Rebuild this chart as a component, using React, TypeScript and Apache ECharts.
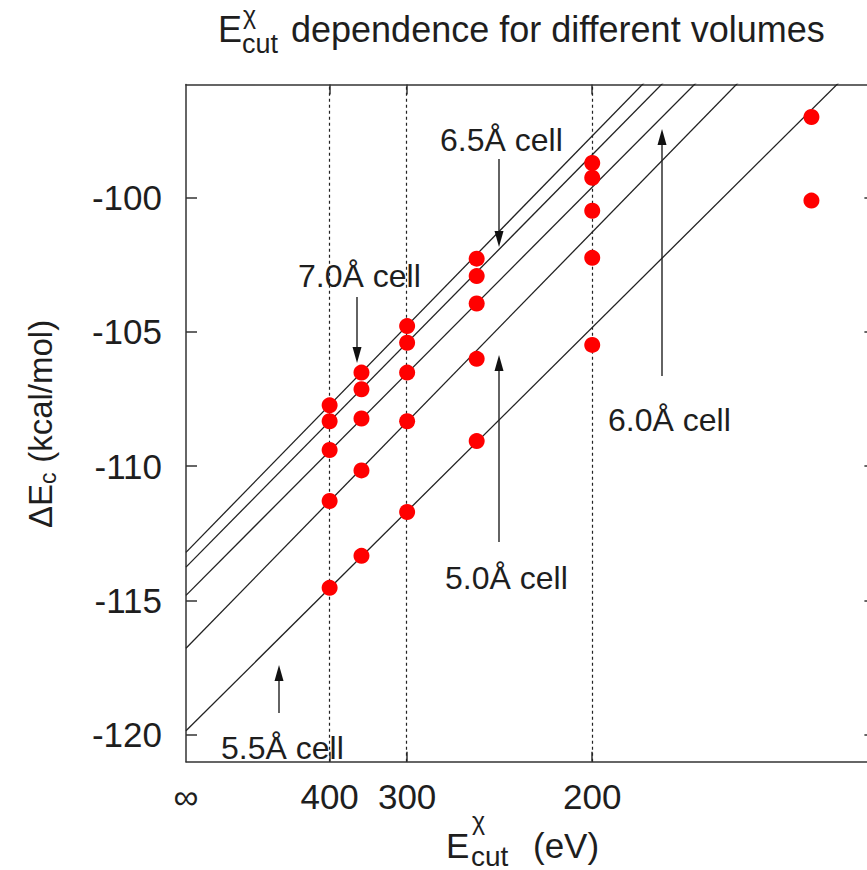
import React, { useEffect, useRef } from 'react';
import * as echarts from 'echarts';

// ---- data ----
const cutoffEnergies = [400, 350, 300, 250, 200, 150]; // eV
const cellNames = ['7.0Å cell', '6.5Å cell', '6.0Å cell', '5.0Å cell', '5.5Å cell'];
const dE_7_0 = [-107.74, -106.52, -104.79, -102.28, -98.72];
const dE_6_5 = [-108.33, -107.14, -105.41, -102.93, -99.27];
const dE_6_0 = [-109.4, -108.23, -106.52, -103.95, -100.5];
const dE_5_0 = [-111.3, -110.16, -108.33, -106.01, -102.25, -97.01];
const dE_5_5 = [-114.53, -113.34, -111.71, -109.07, -105.49, -100.12];
const cellSeries = [dE_7_0, dE_6_5, dE_6_0, dE_5_0, dE_5_5];
// linear fits in E^-3/2 (value at E = infinity, slope)
const fitIntercepts = [-113.21, -113.76, -114.81, -116.78, -119.85];
const fitSlopes = [4.383, 4.34, 4.296, 4.38, 4.245];
const xTickEnergies = [Infinity, 400, 300, 200];
const xTickLabels = ['∞', '400', '300', '200'];
const yTicks = [-120, -115, -110, -105, -100];

const X_MAX = 6.0;
const Y_MIN = -121;
const Y_MAX = -95.8;

const xOf = (E: number) => (isFinite(E) ? 1e4 * Math.pow(E, -1.5) : 0);

const FONT = '"Liberation Sans", Arial, Helvetica, sans-serif';
const INK = '#1e1e1e';
const AXIS = '#333';

function txt(text: string, x: number, y: number, size: number, extra: any = {}) {
  return {
    type: 'text',
    x,
    y,
    z: 100,
    style: {
      text,
      font: `${size}px ${FONT}`,
      fill: INK,
      textAlign: 'left',
      textVerticalAlign: 'middle',
      ...extra,
    },
  };
}

function arrow(x: number, yFrom: number, yTip: number) {
  const dir = yTip > yFrom ? 1 : -1;
  const headLen = 16;
  const headHalf = 4.5;
  return [
    {
      type: 'line',
      z: 100,
      shape: { x1: x, y1: yFrom, x2: x, y2: yTip - dir * headLen * 0.6 },
      style: { stroke: '#222', lineWidth: 1.4 },
    },
    {
      type: 'polygon',
      z: 100,
      shape: {
        points: [
          [x, yTip],
          [x - headHalf, yTip - dir * headLen],
          [x + headHalf, yTip - dir * headLen],
        ],
      },
      style: { fill: '#111' },
    },
  ];
}

export default function App() {
  const ref = useRef<HTMLDivElement>(null);

  useEffect(() => {
    if (!ref.current) return;
    const chart = echarts.init(ref.current, undefined, { renderer: 'svg' });

    const xTickVals = xTickEnergies.map(xOf);
    const xFormatter = (v: number) => {
      const i = xTickVals.findIndex((t) => Math.abs(t - v) < 1e-6);
      return i >= 0 ? xTickLabels[i] : '';
    };

    const axisLine = { show: true, onZero: false, lineStyle: { color: AXIS, width: 1.5 } };

    const fitSeries = fitIntercepts.map((b, i) => ({
      type: 'line',
      name: 'fit ' + cellNames[i],
      data: [
        [0, b],
        [X_MAX, b + fitSlopes[i] * X_MAX],
      ],
      symbol: 'none',
      showSymbol: false,
      clip: true,
      z: 3,
      lineStyle: { color: '#222', width: 1.3 },
      ...(i === 0
        ? {
            markLine: {
              silent: true,
              symbol: ['none', 'none'],
              label: { show: false },
              lineStyle: { type: [3, 3], color: '#222', width: 1.2 },
              data: xTickEnergies.slice(1).map((E) => ({ xAxis: xOf(E) })),
            },
          }
        : {}),
    }));

    const pointSeries = cellSeries.map((vals, i) => ({
      type: 'scatter',
      name: cellNames[i],
      data: vals.map((v, j) => [xOf(cutoffEnergies[j]), v]),
      symbol: 'circle',
      symbolSize: 16,
      z: 5,
      itemStyle: { color: '#ff0000', opacity: 1 },
    }));

    const graphic: any[] = [
      // title
      txt('E', 218, 29.5, 36),
      txt('χ', 243, 15, 25),
      txt('cut', 242, 44, 27),
      txt('dependence for different volumes', 291, 29.5, 36),
      // x axis name
      txt('E', 446, 845, 35),
      txt('χ', 472, 821, 25),
      txt('cut', 471, 856, 28),
      txt('(eV)', 533, 845, 35),
      // y axis name (rotated)
      {
        type: 'group',
        x: 40,
        y: 528,
        rotation: Math.PI / 2,
        children: [
          txt('ΔE', 0, 0, 33),
          txt('c', 44, 8, 23),
          txt(' (kcal/mol)', 56, 0, 33),
        ],
      },
      // annotations
      txt(cellNames[0], 298, 276, 32),
      ...arrow(357, 297, 363),
      txt(cellNames[1], 440, 140, 32),
      ...arrow(499, 159, 247),
      txt(cellNames[2], 608, 420, 32),
      ...arrow(662, 376, 129),
      txt(cellNames[3], 445, 578, 32),
      ...arrow(499, 542, 355),
      txt(cellNames[4], 221, 748, 32),
      ...arrow(279, 713, 665),
    ];

    chart.setOption({
      animation: false,
      backgroundColor: '#ffffff',
      grid: {
        left: 186,
        top: 84.5,
        width: 689.4,
        height: 677.2,
        containLabel: false,
        outerBoundsMode: 'none',
      },
      xAxis: [
        {
          type: 'value',
          position: 'bottom',
          min: 0,
          max: X_MAX,
          axisLine,
          axisTick: {
            show: true,
            inside: true,
            length: 10,
            customValues: xTickVals.slice(1),
            lineStyle: { color: AXIS, width: 1.5 },
          },
          axisLabel: {
            show: true,
            customValues: xTickVals,
            formatter: xFormatter,
            fontSize: 35,
            fontFamily: FONT,
            color: INK,
            margin: 17,
          },
          splitLine: { show: false },
        },
        {
          type: 'value',
          position: 'top',
          min: 0,
          max: X_MAX,
          axisLine,
          axisTick: {
            show: true,
            inside: true,
            length: 10,
            customValues: xTickVals.slice(1),
            lineStyle: { color: AXIS, width: 1.5 },
          },
          axisLabel: { show: false },
          splitLine: { show: false },
        },
      ],
      yAxis: [
        {
          type: 'value',
          position: 'left',
          min: Y_MIN,
          max: Y_MAX,
          axisLine,
          axisTick: {
            show: true,
            inside: true,
            length: 11,
            customValues: yTicks,
            lineStyle: { color: AXIS, width: 1.5 },
          },
          axisLabel: {
            show: true,
            customValues: yTicks,
            fontSize: 35,
            fontFamily: FONT,
            color: INK,
            margin: 24,
          },
          splitLine: { show: false },
        },
        {
          type: 'value',
          position: 'right',
          min: Y_MIN,
          max: Y_MAX,
          axisLine,
          axisTick: {
            show: true,
            inside: true,
            length: 11,
            customValues: yTicks,
            lineStyle: { color: AXIS, width: 1.5 },
          },
          axisLabel: { show: false },
          splitLine: { show: false },
        },
      ],
      series: [...fitSeries, ...pointSeries],
      graphic,
    });

    return () => chart.dispose();
  }, []);

  return (
    <div
      style={{
        position: 'fixed',
        left: 0,
        top: 0,
        width: 867,
        height: 870,
        overflow: 'hidden',
        background: '#fff',
      }}
    >
      <div ref={ref} style={{ width: 880, height: 870 }} />
    </div>
  );
}
